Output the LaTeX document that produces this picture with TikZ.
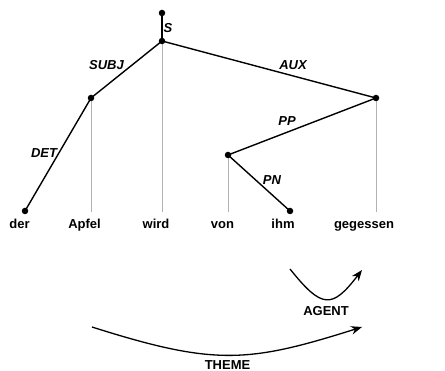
\documentclass[tikz,border=0pt]{standalone}
\usepackage{fontspec}
\setmainfont{Liberation Sans}
\usetikzlibrary{arrows.meta}
\begin{document}
\begin{tikzpicture}[x=1pt,y=-1pt,
  dot/.style={circle,fill=black,inner sep=0pt,minimum size=6.5pt},
  dep/.style={line width=1.4pt,draw=black},
  proj/.style={line width=1pt,draw=black!30},
  word/.style={font=\fontsize{13}{15}\selectfont\bfseries,inner sep=0pt,anchor=base},
  rel/.style={font=\fontsize{13}{15}\selectfont\bfseries\itshape,inner sep=0pt,anchor=base},
  role/.style={line width=1.3pt,draw=black,-{Stealth[length=11pt,width=8.5pt]}},
  rolelabel/.style={font=\fontsize{13}{15}\selectfont\bfseries,inner sep=0pt,anchor=base}]
\fill[white] (0,0) rectangle (445,371);
\useasboundingbox (0,0) rectangle (445,371);

% sentence
\node[word] (wDer)  at (19.5,229)  {der};
\node[word] (wApfel) at (84.5,229) {Apfel};
\node[word] (wWird) at (156,229) {wird};
\node[word] (wVon)  at (222.5,229) {von};
\node[word] (wIhm)  at (283,229) {ihm};
\node[word] (wGeg)  at (364,229) {gegessen};

% tree vertices
\coordinate (vRoot) at (162,13);
\coordinate (vS)    at (162,41);
\coordinate (vApfel) at (91,98);
\coordinate (vGeg)  at (376,98);
\coordinate (vVon)  at (228,155);
\coordinate (vDer)  at (25,211);
\coordinate (vIhm)  at (290,211);

% projection lines down to the words
\coordinate (pApfel) at (91,212);
\coordinate (pWird)  at (162,212);
\coordinate (pVon)   at (228,212);
\coordinate (pGeg)   at (376,212);
\draw[proj] (vApfel) -- (pApfel);
\draw[proj] (vS) -- (pWird);
\draw[proj] (vVon) -- (pVon);
\draw[proj] (vGeg) -- (pGeg);

% dependency edges
\draw[dep] (vRoot) -- (vS);
\draw[dep] (vS) -- (vApfel);
\draw[dep] (vS) -- (vGeg);
\draw[dep] (vApfel) -- (vDer);
\draw[dep] (vGeg) -- (vVon);
\draw[dep] (vVon) -- (vIhm);

\foreach \v in {vRoot,vS,vApfel,vGeg,vVon,vDer,vIhm}
  \node[dot] at (\v) {};

% edge labels
\node[rel] (lS)    at (168,33)  {S};
\node[rel] (lSubj) at (106.5,70)  {SUBJ};
\node[rel] (lAux)  at (293,70)  {AUX};
\node[rel] (lDet)  at (44,158)  {DET};
\node[rel] (lPP)   at (287,126) {PP};
\node[rel] (lPN)   at (272,185) {PN};

% semantic roles
\coordinate (aStart) at (290,269);
\coordinate (aEnd)   at (362,270);
\draw[role] (aStart) .. controls (322,309) and (332,309) .. (aEnd);
\node[rolelabel] (lAgent) at (326,315.5) {AGENT};

\coordinate (tStart) at (92,327);
\coordinate (tEnd)   at (362,327);
\draw[role] (tStart) .. controls (215,366) and (248,363) .. (tEnd);
\node[rolelabel] (lTheme) at (227.5,369.5) {THEME};
\end{tikzpicture}
\end{document}
